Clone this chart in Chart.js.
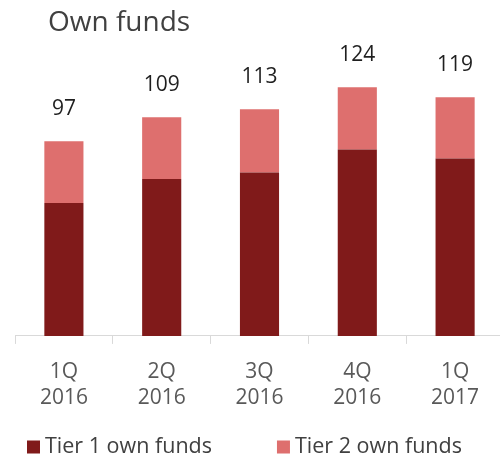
<!DOCTYPE html>
<html>
<head>
<meta charset="utf-8">
<script src="https://cdn.jsdelivr.net/npm/chart.js@4"></script>
<style>
  html, body { margin: 0; padding: 0; background: #fff; overflow: hidden; }
  #wrap { width: 500px; height: 458px; overflow: hidden; }
</style>
</head>
<body>
<div id="wrap"><canvas id="chart" width="504" height="458"></canvas></div>
<script>
// Data
const categories = [['1Q', '2016'], ['2Q', '2016'], ['3Q', '2016'], ['4Q', '2016'], ['1Q', '2017']];
const tier1 = [66.3, 78.2, 81.5, 92.9, 88.5];
const tier2 = [30.7, 30.8, 31.5, 31.1, 30.5];
const totals = [97, 109, 113, 124, 119];
const chartTitle = 'Own funds';

Chart.defaults.font.family = '"Open Sans", sans-serif';

// Title, totals above each stack and a legend with wide item spacing
const extras = {
    id: 'extras',
    afterDatasetsDraw(chart) {
        const ctx = chart.ctx;
        const meta = chart.getDatasetMeta(chart.data.datasets.length - 1);
        ctx.save();
        ctx.font = '21px "Open Sans", sans-serif';
        ctx.fillStyle = '#1f1f1f';
        ctx.textAlign = 'center';
        ctx.textBaseline = 'middle';
        meta.data.forEach((bar, i) => {
            ctx.fillText(totals[i], bar.x, bar.y - 32);
        });
        ctx.restore();
    },
    afterDraw(chart) {
        const ctx = chart.ctx;
        ctx.save();
        ctx.font = '28px "Open Sans", sans-serif';
        ctx.fillStyle = '#404040';
        ctx.textAlign = 'left';
        ctx.textBaseline = 'alphabetic';
        ctx.fillText(chartTitle, 48, 31);

        // legend
        ctx.font = '21.5px "Open Sans", sans-serif';
        ctx.textBaseline = 'middle';
        let x = chart.chartArea.left + 12;
        const y = chart.height - 11;
        chart.data.datasets.forEach(ds => {
            ctx.fillStyle = ds.backgroundColor;
            ctx.fillRect(x, y - 6.5, 13, 13);
            ctx.fillStyle = '#404040';
            ctx.fillText(ds.label, x + 18, y);
            x += 18 + ctx.measureText(ds.label).width + 65;
        });
        ctx.restore();
    }
};

new Chart(document.getElementById('chart'), {
    type: 'bar',
    data: {
        labels: categories,
        datasets: [
            { label: 'Tier 1 own funds', data: tier1, backgroundColor: '#801a1a' },
            { label: 'Tier 2 own funds', data: tier2, backgroundColor: '#de6f6e' }
        ]
    },
    options: {
        responsive: false,
        animation: false,
        devicePixelRatio: 1,
        layout: { padding: { top: 35, left: 0, right: 0, bottom: 32 } },
        datasets: { bar: { barPercentage: 0.4, categoryPercentage: 1.0 } },
        scales: {
            x: {
                stacked: true,
                grid: { drawOnChartArea: false, drawTicks: true, tickLength: 8, color: '#d9d9d9' },
                border: { color: '#d9d9d9' },
                ticks: { color: '#595959', font: { size: 21, lineHeight: 1.24 }, padding: 15, maxRotation: 0, autoSkip: false }
            },
            y: {
                stacked: true,
                min: 0,
                max: 150,
                grid: { display: false },
                border: { display: false },
                ticks: { display: false },
                afterFit(scale) { scale.width = 15; }
            }
        },
        plugins: {
            legend: { display: false },
            tooltip: { enabled: false }
        }
    },
    plugins: [extras]
});
</script>
</body>
</html>
